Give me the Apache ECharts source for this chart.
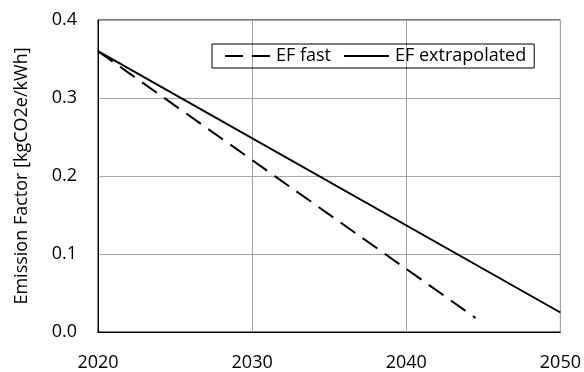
<!DOCTYPE html>
<html>
<head>
<meta charset="utf-8">
<script src="https://cdn.jsdelivr.net/npm/echarts@6/dist/echarts.min.js"></script>
<style>
  html, body { margin: 0; padding: 0; background: #fff; }
  #chart { width: 584px; height: 372px; }
</style>
</head>
<body>
<div id="chart"></div>
<script>
// values
var seriesNames = ['EF fast', 'EF extrapolated'];
var fastYears = [2020, 2044.5];
var fastValues = [0.36, 0.018];
var extraYears = [2020, 2050];
var extraValues = [0.36, 0.025];

var font = 'Open Sans';

function pairs(xs, ys) {
  return xs.map(function (x, i) { return [x, ys[i]]; });
}

var chart = echarts.init(document.getElementById('chart'));
chart.setOption({
  animation: false,
  textStyle: { fontFamily: font },
  grid: {
    left: 98, right: 22, top: 20, bottom: 39,
    show: true, borderColor: '#000', borderWidth: 1
  },
  legend: {
    left: 212, top: 44,
    padding: [3, 8, 3, 13],
    borderColor: '#000', borderWidth: 1,
    itemWidth: 45, itemHeight: 2, itemGap: 13,
    textStyle: { fontFamily: font, fontSize: 18, color: '#000', padding: [0, 0, 0, 1] },
    data: [
      // dashed and solid line icons drawn as thin bars
      { name: seriesNames[0], icon: 'path://M0,0h18v2h-18z M27,0h18v2h-18z' },
      { name: seriesNames[1], icon: 'path://M0,0h45v2h-45z' }
    ]
  },
  xAxis: {
    type: 'value',
    min: 2020, max: 2050, interval: 10,
    axisLine: { show: true, lineStyle: { color: '#000' } },
    axisTick: { show: false },
    splitLine: { lineStyle: { color: '#a6a6a6' } },
    axisLabel: {
      color: '#000', fontSize: 18, margin: 22,
      formatter: function (v) { return String(v); }
    }
  },
  yAxis: {
    type: 'value',
    min: 0, max: 0.4, interval: 0.1,
    name: 'Emission Factor [kgCO2e/kWh]',
    nameLocation: 'middle',
    nameGap: 67,
    nameTextStyle: { color: '#000', fontSize: 18, fontFamily: font },
    axisLine: { show: true, lineStyle: { color: '#000' } },
    axisTick: { show: false },
    splitLine: { lineStyle: { color: '#a6a6a6' } },
    axisLabel: {
      color: '#000', fontSize: 18, margin: 21,
      formatter: function (v) { return v.toFixed(1); }
    }
  },
  series: [
    {
      name: seriesNames[0],
      type: 'line',
      symbol: 'none',
      data: pairs(fastYears, fastValues),
      lineStyle: { color: '#000', width: 2, type: [18, 9] },
      itemStyle: { color: '#000' }
    },
    {
      name: seriesNames[1],
      type: 'line',
      symbol: 'none',
      data: pairs(extraYears, extraValues),
      lineStyle: { color: '#000', width: 2 },
      itemStyle: { color: '#000' }
    }
  ]
});
</script>
</body>
</html>
